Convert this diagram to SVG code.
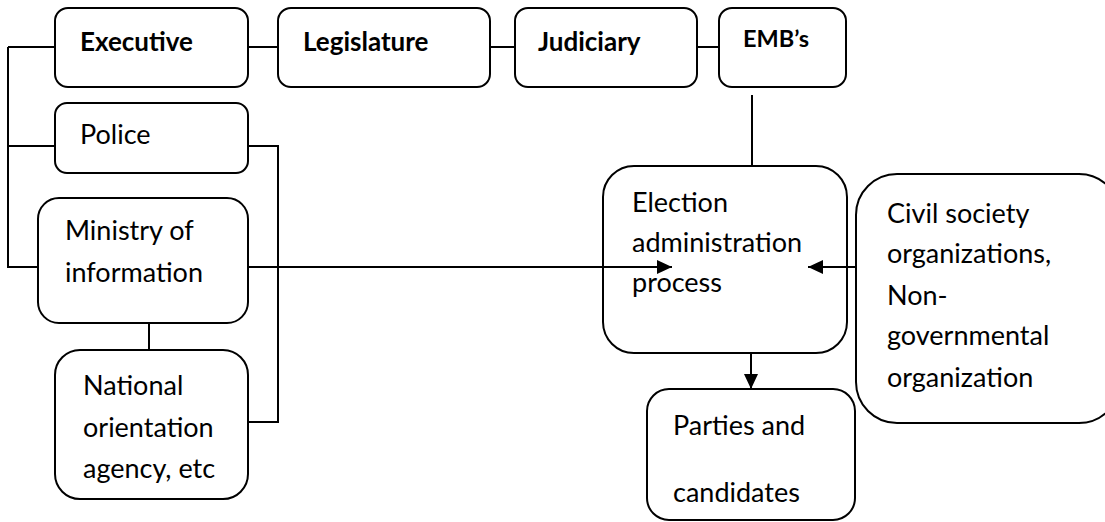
<svg xmlns="http://www.w3.org/2000/svg" width="1105" height="522" viewBox="0 0 1105 522">
<defs>
<style>
.box{fill:#fff;stroke:#000;stroke-width:2}
.ln{fill:none;stroke:#000;stroke-width:2}
text{font-family:Lato,"Liberation Sans",sans-serif;font-size:27px;fill:#000}
.b{font-weight:bold;font-size:26px}
</style>
<marker id="ah" viewBox="0 0 15 14" refX="15" refY="7" markerWidth="15" markerHeight="14" markerUnits="userSpaceOnUse" orient="auto">
<path d="M0,0 L15,7 L0,14 Z" fill="#000"/>
</marker>
</defs>
<rect width="1105" height="522" fill="#fff"/>
<g id="executive"><rect class="box" x="55" y="8" width="193" height="79" rx="13"/><text class="b" x="80" y="51">Executive</text></g>
<g id="legislature"><rect class="box" x="278" y="8" width="212" height="79" rx="13"/><text class="b" x="303" y="51">Legislature</text></g>
<g id="judiciary"><rect class="box" x="515" y="8" width="182" height="79" rx="13"/><text class="b" x="538" y="51">Judiciary</text></g>
<g id="embs"><rect class="box" x="719" y="8" width="127" height="79" rx="13"/><text class="b" x="743" y="47" style="font-size:23.5px">EMB’s</text></g>
<g id="police"><rect class="box" x="55" y="103" width="193" height="70" rx="12"/><text x="80" y="144">Police</text></g>
<g id="ministry"><rect class="box" x="38" y="198" width="210" height="125" rx="21"/><text x="65" y="240">Ministry of</text><text x="65" y="282">information</text></g>
<g id="national"><rect class="box" x="55" y="350" width="193" height="149" rx="25"/><text x="83" y="395">National</text><text x="83" y="437">orientation</text><text x="83" y="478">agency, etc</text></g>
<g id="election"><rect class="box" x="603" y="166" width="244" height="187" rx="31"/><text x="632" y="212">Election</text><text x="632" y="252">administration</text><text x="632" y="292">process</text></g>
<g id="civil"><rect class="box" x="856" y="174" width="264" height="249" rx="41"/><text x="887" y="223">Civil society</text><text x="887" y="263">organizations,</text><text x="887" y="305">Non-</text><text x="887" y="345">governmental</text><text x="887" y="387">organization</text></g>
<g id="parties"><rect class="box" x="647" y="389" width="208" height="131" rx="22"/><text x="673" y="435">Parties and</text><text x="673" y="502">candidates</text></g>
<g id="connectors">
<path class="ln" d="M8,47 H55 M8,47 V267 H38 M8,146 H55"/>
<path class="ln" d="M248,47 H278 M490,47 H515 M697,47 H719"/>
<path class="ln" d="M248,146 H278 V422 H248"/>
<path class="ln" d="M149,323 V350"/>
<path class="ln" d="M752,95 V166"/>
<path class="ln" d="M248,267 H672" marker-end="url(#ah)"/>
<path class="ln" d="M856,267 H808" marker-end="url(#ah)"/>
<path class="ln" d="M751,353 V389" marker-end="url(#ah)"/>
</g>
</svg>
